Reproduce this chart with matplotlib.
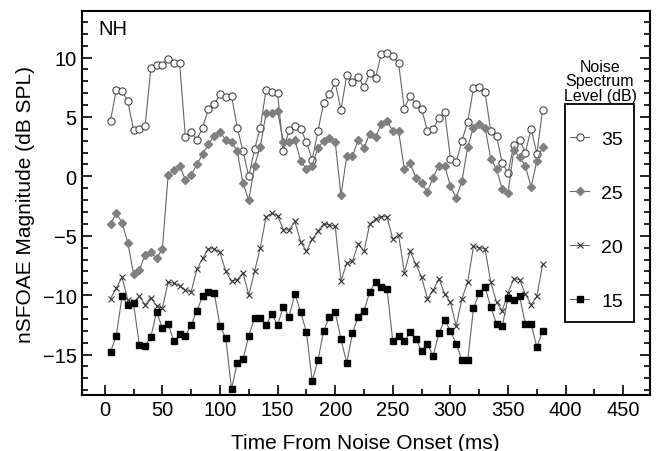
import matplotlib
matplotlib.use("Agg")
import matplotlib.pyplot as plt
from matplotlib.ticker import MultipleLocator
from matplotlib.patches import Rectangle
import numpy as np

plt.rcParams['font.family'] = ['Liberation Sans', 'DejaVu Sans']

# time axis (ms) - one sample every 5 ms
t = np.arange(5, 385, 5)

# noise spectrum level 35 dB
lvl35 = [4.7, 7.3, 7.2, 6.3, 3.9, 4.0, 4.2, 9.1, 9.4, 9.4,
         9.9, 9.5, 9.5, 3.3, 3.7, 3.1, 4.1, 5.7, 6.1, 6.9,
         6.7, 6.8, 4.1, 2.1, 0.0, 2.3, 4.1, 7.3, 7.1, 7.0,
         2.1, 3.9, 4.2, 4.0, 2.9, 1.4, 3.8, 6.2, 6.9, 7.9,
         5.6, 8.5, 7.9, 8.4, 7.5, 8.7, 8.3, 10.3, 10.4, 10.1,
         9.5, 5.7, 6.8, 6.1, 5.7, 3.8, 4.0, 4.9, 5.4, 1.5,
         1.2, 3.0, 4.6, 7.4, 7.5, 7.1, 3.8, 3.4, 1.1, 0.3,
         2.6, 3.1, 2.0, 4.0, 1.9, 5.6]

# 25 dB
lvl25 = [-4.0, -3.1, -3.9, -5.6, -8.2, -7.9, -6.6, -6.4, -6.9, -6.1,
         0.1, 0.5, 0.9, -0.3, 0.1, 1.0, 1.9, 2.7, 3.4, 3.7,
         3.1, 2.9, 2.1, -0.6, -2.0, 0.9, 2.5, 5.3, 5.3, 5.5,
         2.9, 2.9, 3.1, 1.3, 0.6, 0.9, 2.4, 3.0, 3.2, 2.9,
         -1.6, 1.7, 1.7, 3.1, 2.4, 3.6, 3.3, 4.4, 4.7, 3.8,
         3.8, 0.6, 1.1, -0.1, -0.6, -1.3, -0.1, 0.9, 0.9, -0.8,
         -1.8, -0.4, 2.5, 4.1, 4.4, 4.1, 1.5, 0.6, -1.1, -1.4,
         2.2, 1.6, 0.9, -0.9, 1.3, 2.5]

# 20 dB
lvl20 = [-10.3, -9.4, -8.5, -10.4, -10.6, -10.1, -10.8, -10.2, -10.9, -11.1,
         -8.9, -9.0, -9.2, -9.6, -9.7, -7.8, -6.9, -6.1, -6.1, -6.4,
         -8.0, -8.8, -8.7, -8.1, -10.0, -8.0, -6.0, -3.4, -3.1, -3.3,
         -4.5, -4.5, -3.8, -5.5, -6.3, -5.3, -4.6, -4.0, -4.1, -4.2,
         -8.8, -7.3, -7.1, -5.7, -6.3, -4.0, -3.6, -3.4, -3.4, -5.3,
         -4.9, -8.1, -6.3, -7.4, -8.5, -10.3, -9.6, -8.6, -9.9, -10.6,
         -12.6, -10.3, -8.9, -5.9, -6.0, -6.1, -8.9, -10.6, -11.3, -9.8,
         -8.6, -8.7, -9.9, -10.8, -10.1, -7.4]

# 15 dB
lvl15 = [-14.8, -13.4, -10.1, -10.8, -10.7, -14.2, -14.3, -13.5, -11.4, -12.8,
         -12.4, -13.9, -13.3, -13.4, -12.5, -11.3, -10.1, -9.7, -9.8, -12.6,
         -13.6, -17.9, -15.7, -15.4, -13.4, -11.9, -11.9, -12.5, -11.6, -12.5,
         -11.0, -11.8, -9.9, -11.4, -13.1, -17.2, -15.5, -13.0, -11.8, -11.4,
         -13.7, -15.7, -13.2, -11.8, -11.3, -9.7, -8.9, -9.3, -9.5, -13.9,
         -13.4, -13.9, -13.1, -13.7, -14.7, -14.1, -15.1, -13.2, -12.1, -13.0,
         -14.1, -15.5, -15.5, -11.1, -9.8, -9.3, -11.0, -12.4, -12.6, -10.2,
         -10.4, -10.1, -12.4, -12.4, -14.4, -13.0]

fig = plt.figure(figsize=(6.59, 4.52), dpi=100)
ax = fig.add_axes([0.124, 0.124, 0.862, 0.849])

lc = '#666666'
ax.plot(t, lvl35, '-o', color=lc, lw=0.8, ms=5.2, mfc='white', mec='#444444', mew=0.8, label='35')
ax.plot(t, lvl25, '-D', color=lc, lw=0.8, ms=4.3, mfc='#808080', mec='#808080', label='25')
ax.plot(t, lvl20, '-x', color=lc, lw=0.8, ms=4.5, mec='#333333', mew=0.8, label='20')
ax.plot(t, lvl15, '-s', color=lc, lw=0.8, ms=4.5, mfc='black', mec='black', label='15')

ax.set_xlim(-20, 473)
ax.set_ylim(-18.4, 13.9)
ax.xaxis.set_major_locator(MultipleLocator(50))
ax.xaxis.set_minor_locator(MultipleLocator(25))
ax.yaxis.set_major_locator(MultipleLocator(5))
ax.yaxis.set_minor_locator(MultipleLocator(1))
ax.tick_params(which='both', direction='in', left=True, right=True, bottom=True, top=False,
               labelsize=14.5, width=1.2)
ax.tick_params(which='major', length=7)
ax.tick_params(which='minor', length=4)
ax.set_yticks([-15, -10, -5, 0, 5, 10])
ax.set_yticklabels(['\u221215', '\u221210', '\u22125', '0', '5', '10'])
for s in ax.spines.values():
    s.set_linewidth(1.5)

ax.set_xlabel('Time From Noise Onset (ms)', fontsize=15, labelpad=10)
ax.set_ylabel('nSFOAE Magnitude (dB SPL)', fontsize=15, labelpad=6)
ax.text(0.03, 0.98, 'NH', transform=ax.transAxes, fontsize=14.5, va='top', ha='left')

# legend entries without frame, box drawn separately
leg = ax.legend(loc='upper left', bbox_to_anchor=(570 / 659, 1 - 131 / 452),
                bbox_transform=fig.transFigure, borderaxespad=0, fontsize=14,
                frameon=False, handlelength=1.0, handletextpad=0.6, borderpad=0,
                labelspacing=1.88)
fig.patches.append(Rectangle((565 / 659, 1 - 323 / 452), 69 / 659, 218 / 452,
                             transform=fig.transFigure, fill=False, lw=1.3, ec='black'))
fig.text(600 / 659, 1 - 60 / 452, 'Noise\nSpectrum\nLevel (dB)', ha='center', va='top',
         fontsize=11.5, linespacing=0.95)

fig.savefig('out.png', dpi=100)
